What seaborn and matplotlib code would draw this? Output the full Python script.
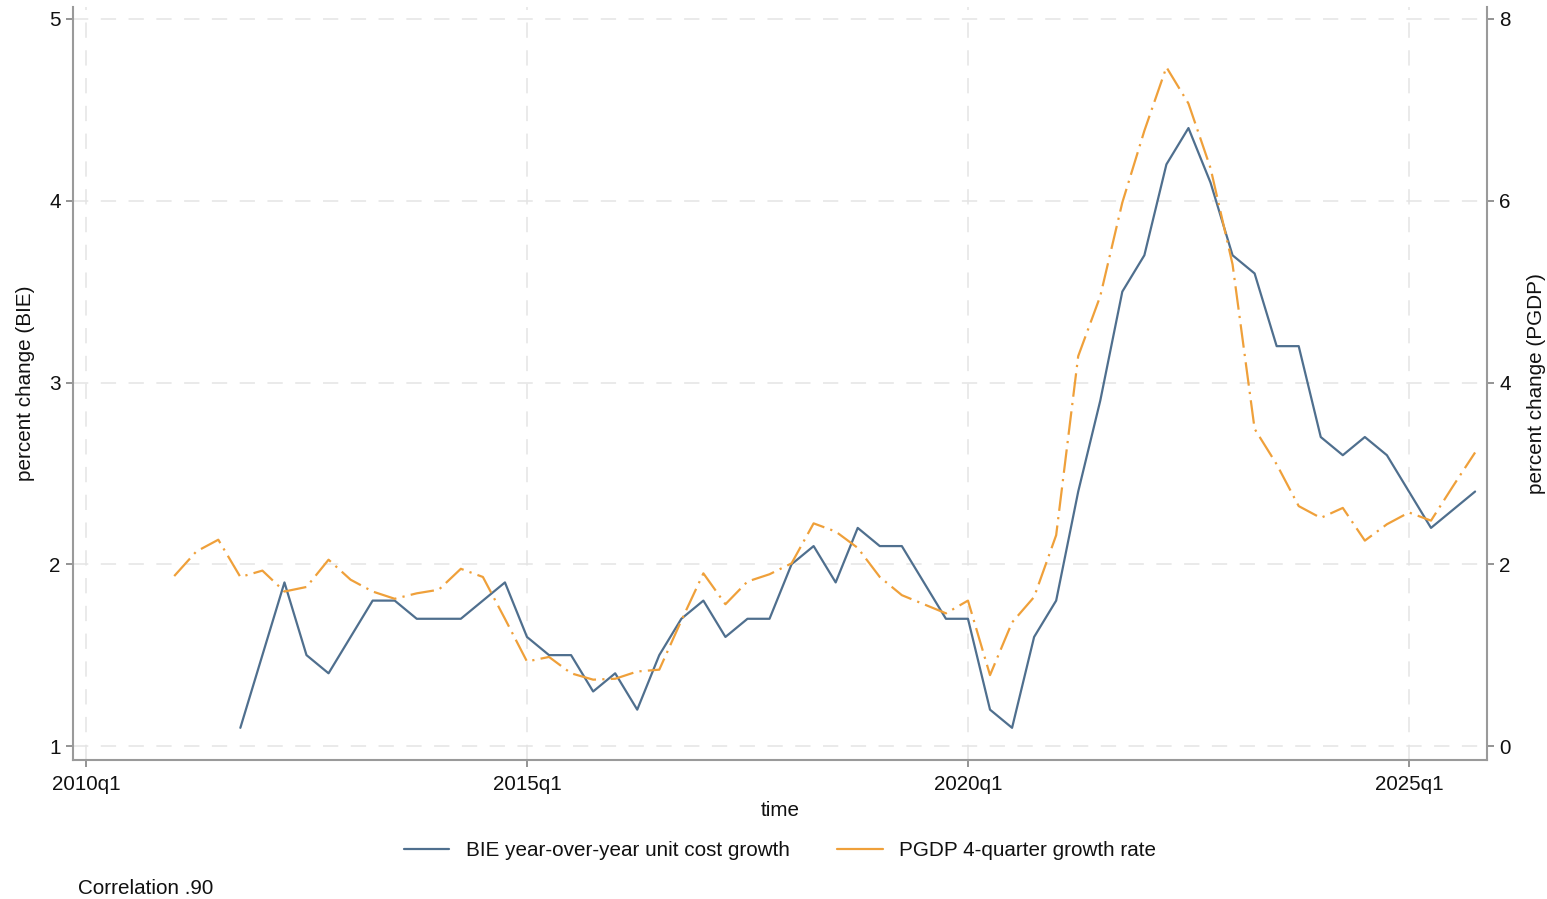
import numpy as np
import pandas as pd
import matplotlib
matplotlib.use("Agg")
import matplotlib.pyplot as plt
from matplotlib.lines import Line2D
import seaborn as sns

# ---------------- data ----------------
start_year = 2010
bie_start_q = 7      # 2011q4 (quarters since 2010q1)
bie_values = [1.1, 1.5, 1.9, 1.5, 1.4, 1.6, 1.8, 1.8, 1.7, 1.7, 1.7, 1.8, 1.9,
              1.6, 1.5, 1.5, 1.3, 1.4, 1.2, 1.5, 1.7, 1.8, 1.6, 1.7, 1.7, 2.0,
              2.1, 1.9, 2.2, 2.1, 2.1, 1.9, 1.7, 1.7, 1.2, 1.1, 1.6, 1.8, 2.4,
              2.9, 3.5, 3.7, 4.2, 4.4, 4.1, 3.7, 3.6, 3.2, 3.2, 2.7, 2.6, 2.7,
              2.6, 2.4, 2.2, 2.3, 2.4]
pgdp_start_q = 4     # 2011q1
pgdp_values = [1.87, 2.14, 2.27, 1.86, 1.93, 1.70, 1.75, 2.05, 1.83, 1.70, 1.62,
               1.68, 1.72, 1.95, 1.86, 1.40, 0.93, 0.98, 0.80, 0.73, 0.74, 0.82,
               0.84, 1.38, 1.90, 1.56, 1.81, 1.89, 2.01, 2.45, 2.36, 2.18, 1.86,
               1.66, 1.56, 1.46, 1.60, 0.78, 1.36, 1.64, 2.32, 4.29, 4.95, 5.98,
               6.77, 7.47, 7.07, 6.36, 5.30, 3.49, 3.10, 2.64, 2.51, 2.62, 2.26,
               2.44, 2.57, 2.48, 2.86, 3.23]
xtick_pos = [0, 20, 40, 60]
xtick_labels = ["2010q1", "2015q1", "2020q1", "2025q1"]
left_ticks = [1, 2, 3, 4, 5]
right_ticks = [0, 2, 4, 6, 8]
bie_label = "BIE year-over-year unit cost growth"
pgdp_label = "PGDP 4-quarter growth rate"
corr_text = "Correlation .90"

bie_df = pd.DataFrame({"q": np.arange(bie_start_q, bie_start_q + len(bie_values)),
                       "val": bie_values})
pgdp_df = pd.DataFrame({"q": np.arange(pgdp_start_q, pgdp_start_q + len(pgdp_values)),
                        "val": pgdp_values})

# ---------------- style ----------------
sns.set_theme(style="white")
plt.rcParams["font.family"] = ["Liberation Sans", "DejaVu Sans"]
plt.rcParams["lines.scale_dashes"] = False
FS = 14.9
BLUE = "#4f6f8e"
ORANGE = "#efa03a"
GRIDC = "#e4e4e4"
SPINEC = "#9a9a9a"
TXT = "#111111"

fig = plt.figure(figsize=(15.47, 8.99), dpi=100)
ax = fig.add_axes([73/1547, 1-760/899, (1487-73)/1547, (760-7)/899])
ax2 = ax.twinx()

sns.lineplot(data=bie_df, x="q", y="val", ax=ax, color=BLUE, linewidth=1.6,
             legend=False)
sns.lineplot(data=pgdp_df, x="q", y="val", ax=ax2, color=ORANGE, linewidth=1.6,
             legend=False)
ax2.lines[0].set_linestyle((0, (17, 4.5, 1.6, 4.5)))

ax.set_xlim(-0.59, 63.54)
ax.set_ylim(0.923, 5.066)
ax2.set_ylim(-0.154, 8.132)

ax.set_xticks(xtick_pos)
ax.set_xticklabels(xtick_labels)
ax.set_yticks(left_ticks)
ax.set_yticklabels([str(t) for t in left_ticks])
ax2.set_yticks(right_ticks)
ax2.set_yticklabels([str(t) for t in right_ticks])

# grid
for y in left_ticks:
    ax.axhline(y, color=GRIDC, lw=1.1, ls=(0, (11, 9)), zorder=0)
for x in xtick_pos:
    ax.axvline(x, color=GRIDC, lw=1.1, ls=(0, (11, 9)), zorder=0)
ax.grid(False)
ax2.grid(False)

# spines
for a in (ax, ax2):
    a.spines["top"].set_visible(False)
    for s in ("left", "bottom", "right"):
        a.spines[s].set_color(SPINEC)
        a.spines[s].set_linewidth(1.5)
ax.spines["right"].set_visible(False)
ax2.spines["left"].set_visible(False)
ax2.spines["bottom"].set_visible(False)

ax.tick_params(axis="both", direction="out", length=5, width=1.1, color="#777777",
               labelsize=FS, labelcolor=TXT, left=True, bottom=True)
ax.tick_params(axis="x", pad=6)
ax.tick_params(axis="y", pad=4)
ax2.tick_params(axis="y", direction="out", length=5, width=1.1, color="#777777",
                labelsize=FS, labelcolor=TXT, right=True, pad=4)

ax.set_xlabel("time", fontsize=FS, color=TXT)
ax.set_ylabel("percent change (BIE)", fontsize=FS, color=TXT)
ax2.set_ylabel("percent change (PGDP)", fontsize=FS, color=TXT)
ax.xaxis.set_label_coords(0.5, -0.0545)
ax.yaxis.set_label_coords(-0.0269, 0.5)
ax2.yaxis.set_label_coords(1.0283, 0.5)

handles = [Line2D([], [], color=BLUE, lw=1.6),
           Line2D([], [], color=ORANGE, lw=1.6)]
fig.legend(handles, [bie_label, pgdp_label], loc="center", ncol=2,
           bbox_to_anchor=(780/1547, 1-851/899), frameon=False, fontsize=FS,
           handlelength=2.2, handletextpad=0.8, columnspacing=2.3,
           labelcolor=TXT)

fig.text(78/1547, 1-888/899, corr_text, fontsize=FS, color=TXT,
         ha="left", va="center")

fig.savefig("out.png", dpi=100)
